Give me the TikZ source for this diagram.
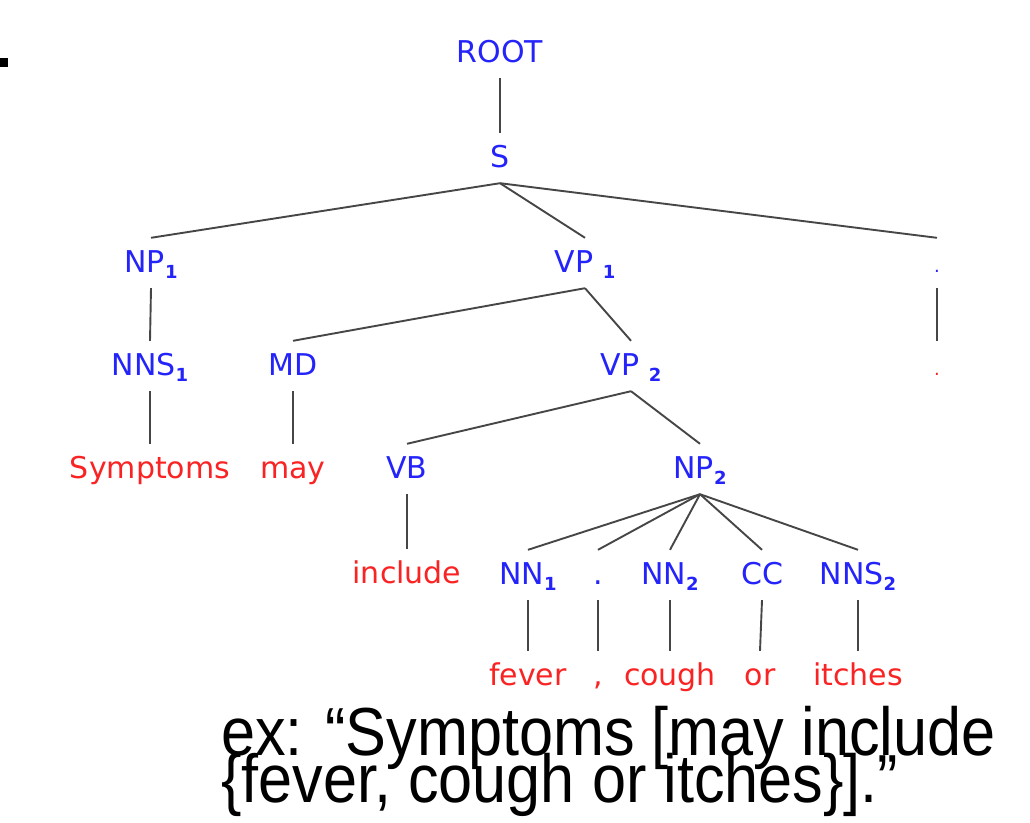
\documentclass[tikz,border=0pt]{standalone}
\usepackage{fontspec}
\setmainfont{DejaVu Sans}
\newfontfamily\capfont{Liberation Sans}
\definecolor{tagblue}{RGB}{35,35,250}
\definecolor{wordred}{RGB}{250,35,35}
\definecolor{edgegray}{RGB}{70,70,70}
\newcommand{\subn}[1]{\raisebox{-6pt}{\fontsize{18}{18}\selectfont\bfseries #1}}
\begin{document}
\begin{tikzpicture}[x=1pt,y=-1pt,
  tnode/.style={font=\fontsize{30}{30}\selectfont, text height=22pt, text depth=4pt, inner xsep=0pt, inner ysep=12pt, anchor=base},
  tag/.style={tnode, text=tagblue},
  word/.style={tnode, text=wordred},
  edge/.style={draw=edgegray, line width=1.9pt},
  caption/.style={anchor=base west, inner sep=0pt, font=\capfont\fontsize{68}{68}\selectfont}]
\useasboundingbox (0,0) rectangle (1030,822);
\fill (0,58) rectangle (8,67);
% tree nodes
\node[tag] (root) at (500,62) {ROOT};
\node[tag] (s) at (500,167) {S};
\node[tag] (np1) at (151,272) {NP\subn{1}};
\node[tag] (vp1) at (585,272) {VP \subn{1}};
\node[tag] (pt) at (937,272) {\scalebox{0.6}{.}};
\node[tag] (nns1) at (150,375) {NNS\subn{1}};
\node[tag] (md) at (293,375) {MD};
\node[tag] (vp2) at (631,375) {VP \subn{2}};
\node[word] (pw) at (937,375) {\scalebox{0.6}{.}};
\node[word] (symptoms) at (150,478) {Symptoms};
\node[word] (may) at (293,478) {may};
\node[tag] (vb) at (407,478) {VB};
\node[tag] (np2) at (700,478) {NP\subn{2}};
\node[word] (include) at (407,583) {include};
\node[tag] (nn1) at (528,584) {NN\subn{1}};
\node[tag] (cm) at (598,584) {.};
\node[tag] (nn2) at (670,584) {NN\subn{2}};
\node[tag] (cc) at (762,584) {CC};
\node[tag] (nns2) at (858,584) {NNS\subn{2}};
\node[word] (fever) at (528,685) {fever};
\node[word] (cw) at (598,685) {,};
\node[word] (cough) at (670,685) {cough};
\node[word] (or) at (760,685) {or};
\node[word] (itches) at (858,685) {itches};
% edges
\draw[edge] (root.south) -- (s.north);
\draw[edge] (s.south) -- (np1.north);
\draw[edge] (s.south) -- (vp1.north);
\draw[edge] (s.south) -- (pt.north);
\draw[edge] (np1.south) -- (nns1.north);
\draw[edge] (vp1.south) -- (md.north);
\draw[edge] (vp1.south) -- (vp2.north);
\draw[edge] (pt.south) -- (pw.north);
\draw[edge] (nns1.south) -- (symptoms.north);
\draw[edge] (md.south) -- (may.north);
\draw[edge] (vp2.south) -- (vb.north);
\draw[edge] (vp2.south) -- (np2.north);
\draw[edge] (vb.south) -- (include.north);
\draw[edge] (np2.south) -- (nn1.north);
\draw[edge] (np2.south) -- (cm.north);
\draw[edge] (np2.south) -- (nn2.north);
\draw[edge] (np2.south) -- (cc.north);
\draw[edge] (np2.south) -- (nns2.north);
\draw[edge] (nn1.south) -- (fever.north);
\draw[edge] (cm.south) -- (cw.north);
\draw[edge] (nn2.south) -- (cough.north);
\draw[edge] (cc.south) -- (or.north);
\draw[edge] (nns2.south) -- (itches.north);
% caption
\node[caption] (line1) at (221,755) {\scalebox{0.9}[1]{ex: “Symptoms [may include}};
\node[caption] (line2) at (221,802) {\scalebox{0.9}[1]{\{fever, cough or itches\}].”}};
\end{tikzpicture}
\end{document}
